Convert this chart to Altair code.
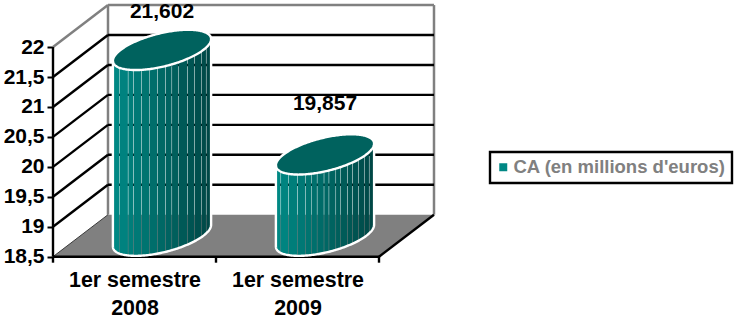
import altair as alt
import numpy as np
import pandas as pd

# Chart values
categories = [["1er semestre", "2008"], ["1er semestre", "2009"]]
values = [21.602, 19.857]
series_name = "CA (en millions d'euros)"
value_ticks = [18.5, 19, 19.5, 20, 20.5, 21, 21.5, 22]
grid_values = [19, 19.5, 20, 20.5, 21, 21.5]
label_lift = [0.632, 0.84]

# Oblique projection: one unit of depth shifts along both plot axes
BASE, TOP = 18.5, 22
SKEW_X, SKEW_V = 0.3374, 0.701
RADIUS_C, RADIUS_D = 0.254, 0.48
WIDTH, HEIGHT = 734, 320

# Facet seams across each cylinder, as fractions of its width
seams = [
    [0.07, 0.155, 0.21, 0.29, 0.37, 0.455, 0.535, 0.60, 0.67, 0.76, 0.83, 0.90, 0.95],
    [0.05, 0.13, 0.22, 0.30, 0.36, 0.42, 0.49, 0.54, 0.61, 0.66, 0.73, 0.78, 0.84, 0.90, 0.95],
]
SEAM_GAP = 0.0028
SHADE_LEFT = (0, 138, 134)
SHADE_RIGHT = (0, 70, 68)
CAP_COLOR = "#00625e"
SWATCH_COLOR = "#008784"
FONT = "Liberation Sans"


def project(c, d, v):
    return c + d * SKEW_X, v + d * SKEW_V


def seg(c0, d0, v0, c1, d1, v1):
    x0, y0 = project(c0, d0, v0)
    x1, y1 = project(c1, d1, v1)
    return {"x": x0, "y": y0, "x2": x1, "y2": y1}


# Vertical offsets of a tilted ellipse (the projected circular cross-section)
HALF_U = float(np.hypot(RADIUS_C, RADIUS_D * SKEW_X))
_p = SKEW_X / SKEW_V
_q = RADIUS_D * SKEW_V


def envelope(u):
    u = np.asarray(u, dtype=float)
    a = _p**2 / RADIUS_C**2 + 1 / _q**2
    b = -2 * u * _p / RADIUS_C**2
    k = u**2 / RADIUS_C**2 - 1
    root = np.sqrt(np.maximum(b**2 - 4 * a * k, 0))
    return (-b - root) / (2 * a), (-b + root) / (2 * a)


def shade(f):
    rgb = [round(l + (r - l) * f) for l, r in zip(SHADE_LEFT, SHADE_RIGHT)]
    return "#%02x%02x%02x" % tuple(rgb)


X_SCALE = alt.Scale(domain=[-53 / 163, (WIDTH - 53) / 163], nice=False, zero=False)
Y_SCALE = alt.Scale(
    domain=[BASE - (HEIGHT - 256.7) / 59.9, BASE + 256.7 / 59.9], nice=False, zero=False
)

# Axes: positioned over the projected front edges
label_expr = (
    "["
    + ",".join("['" + "','".join(c) + "']" for c in categories)
    + "][floor(datum.value)]"
)
X_AXIS = alt.Axis(
    values=[i + 0.5 for i in range(len(categories))],
    labelExpr=label_expr,
    offset=-(HEIGHT - 256.7),
    domain=False,
    ticks=False,
    grid=False,
    labelAngle=0,
    labelFont=FONT,
    labelFontSize=21.4,
    labelFontWeight="bold",
    labelColor="black",
    labelPadding=13,
    labelLineHeight=28,
    labelLimit=0,
    labelOverlap=False,
    labelFlush=False,
    title=None,
)
Y_AXIS = alt.Axis(
    values=value_ticks,
    labelExpr="replace(toString(datum.value), '.', ',')",
    offset=-53,
    domain=False,
    grid=False,
    tickColor="black",
    tickWidth=2,
    tickSize=6,
    labelFont=FONT,
    labelFontSize=21,
    labelFontWeight="bold",
    labelColor="black",
    labelPadding=3,
    labelOverlap=False,
    labelFlush=False,
    title=None,
)
X = alt.X("x:Q", scale=X_SCALE, axis=X_AXIS)
Y = alt.Y("y:Q", scale=Y_SCALE, axis=Y_AXIS, stack=None)


def rules(rows, color, width):
    return (
        alt.Chart(pd.DataFrame(rows))
        .mark_rule(color=color, strokeWidth=width)
        .encode(x=X, y=Y, x2="x2:Q", y2="y2:Q")
    )


# Walls and their edges
wall_rows = [
    seg(0, 1, BASE, 0, 1, TOP),
    seg(0, 1, TOP, 2, 1, TOP),
    seg(2, 1, TOP, 2, 1, BASE),
    seg(0, 0, TOP, 0, 1, TOP),
]
walls = rules(wall_rows, "#808080", 2.5)

grid_rows = []
for g in grid_values:
    grid_rows.append(seg(0, 0, g, 0, 1, g))
    grid_rows.append(seg(0, 1, g, 2, 1, g))
grid = rules(grid_rows, "black", 2.4)

# Floor parallelogram
fx0, _ = project(0, 0, BASE)
fx1, ftop = project(0, 1, BASE)
fx2, _ = project(2, 0, BASE)
fx3, _ = project(2, 1, BASE)
floor = (
    alt.Chart(
        pd.DataFrame(
            {
                "x": [fx0, fx1, fx2, fx3],
                "y": [BASE, ftop, ftop, ftop],
                "y2": [BASE, BASE, BASE, ftop],
            }
        )
    )
    .mark_area(color="#808080")
    .encode(x=X, y=Y, y2="y2:Q")
)
floor_edge = rules([seg(0, 0, BASE, 0, 1, BASE)], "#3a3a3a", 1)
frame = rules(
    [
        seg(0, 0, BASE, 0, 0, TOP),
        seg(0, 0, BASE, 2, 0, BASE),
        seg(2, 0, BASE, 2, 1, BASE),
    ]
    + [
        {"x": float(i), "y": BASE, "x2": float(i), "y2": BASE - 6 / 59.9}
        for i in range(len(categories) + 1)
    ],
    "black",
    2.4,
)

# Cylinders: body facets, cap and white outline
strip_rows, cap_rows, outline_rows = [], [], []
for i, (value, cuts) in enumerate(zip(values, seams)):
    cx, _ = project(i + 0.5, 0.5, BASE)
    v_mid = value + 0.5 * SKEW_V
    b_mid = BASE + 0.5 * SKEW_V
    edges = [0.0] + cuts + [1.0]
    for s, (f0, f1) in enumerate(zip(edges[:-1], edges[1:])):
        u0 = -HALF_U + 2 * HALF_U * f0 + (SEAM_GAP / 2 if s else 0)
        u1 = -HALF_U + 2 * HALF_U * f1 - (SEAM_GAP / 2 if f1 < 1 else 0)
        us = np.linspace(u0, u1, 9)
        low, _ = envelope(us)
        for u, w in zip(us, low):
            strip_rows.append(
                {
                    "x": cx + u,
                    "y": v_mid + envelope(u)[1],
                    "y2": b_mid + w,
                    "strip": f"{i}-{s}",
                    "shade": shade((f0 + f1) / 2),
                }
            )
    us = -HALF_U * np.cos(np.linspace(0, np.pi, 121))
    low, high = envelope(us)
    for u, a, b in zip(us, low, high):
        cap_rows.append({"x": cx + u, "y": v_mid + b, "y2": v_mid + a, "bar": i})
    order = 0
    side_w = envelope(-HALF_U)[0]
    outline_rows.append({"x": cx - HALF_U, "y": v_mid + side_w, "path": f"s{i}", "o": order})
    for u, a in zip(us, low):
        order += 1
        outline_rows.append({"x": cx + u, "y": b_mid + a, "path": f"s{i}", "o": order})
    outline_rows.append(
        {"x": cx + HALF_U, "y": v_mid + envelope(HALF_U)[0], "path": f"s{i}", "o": order + 1}
    )
    ring = [(u, a) for u, a in zip(us, low)] + [(u, b) for u, b in zip(us[::-1], high[::-1])]
    for o, (u, w) in enumerate(ring):
        outline_rows.append({"x": cx + u, "y": v_mid + w, "path": f"c{i}", "o": o})

bodies = (
    alt.Chart(pd.DataFrame(strip_rows))
    .mark_area(interpolate="linear")
    .encode(
        x=X,
        y=Y,
        y2="y2:Q",
        detail="strip:N",
        color=alt.Color("shade:N", scale=None, legend=None),
    )
)
caps = (
    alt.Chart(pd.DataFrame(cap_rows))
    .mark_area(color=CAP_COLOR)
    .encode(x=X, y=Y, y2="y2:Q", detail="bar:N")
)
outlines = (
    alt.Chart(pd.DataFrame(outline_rows))
    .mark_line(color="white", strokeWidth=2.4)
    .encode(x=X, y=alt.Y("y:Q", scale=Y_SCALE, axis=Y_AXIS), detail="path:N", order="o:Q")
)

# Value labels above each cylinder
label_rows = [
    {
        "x": project(i + 0.5, 0.5, BASE)[0],
        "y": v + 0.5 * SKEW_V + lift,
        "text": f"{v:.3f}".replace(".", ","),
    }
    for i, (v, lift) in enumerate(zip(values, label_lift))
]
value_labels = (
    alt.Chart(pd.DataFrame(label_rows))
    .mark_text(font=FONT, fontSize=21, fontWeight="bold", color="black")
    .encode(x=X, y=alt.Y("y:Q", scale=Y_SCALE, axis=Y_AXIS), text="text:N")
)

# Invisible series layer that carries the legend
legend_layer = (
    alt.Chart(pd.DataFrame({"x": [0.0], "y": [BASE], "series": [series_name]}))
    .mark_point(filled=True, size=0, shape="square")
    .encode(
        x=X,
        y=alt.Y("y:Q", scale=Y_SCALE, axis=Y_AXIS),
        color=alt.Color(
            "series:N",
            scale=alt.Scale(domain=[series_name], range=[SWATCH_COLOR]),
            legend=alt.Legend(
                title=None,
                orient="none",
                legendX=490,
                legendY=152,
                strokeColor="black",
                fillColor="white",
                padding=6,
                symbolType="square",
                symbolSize=64,
                symbolOpacity=1,
                symbolOffset=-2,
                labelFont=FONT,
                labelFontSize=18.5,
                labelFontWeight="bold",
                labelColor="#808080",
                labelLimit=0,
                labelOffset=1,
            ),
        ),
    )
)

chart = (
    alt.layer(
        walls, grid, floor, floor_edge, frame, bodies, caps, outlines,
        value_labels, legend_layer,
    )
    .resolve_scale(color="independent")
    .properties(width=WIDTH, height=HEIGHT, padding=0, autosize=alt.AutoSizeParams(type="none"))
    .configure_view(stroke=None)
    .configure_legend(strokeWidth=2.4)
)

chart.save("out.html", embed_options={"renderer": "svg", "actions": False})
